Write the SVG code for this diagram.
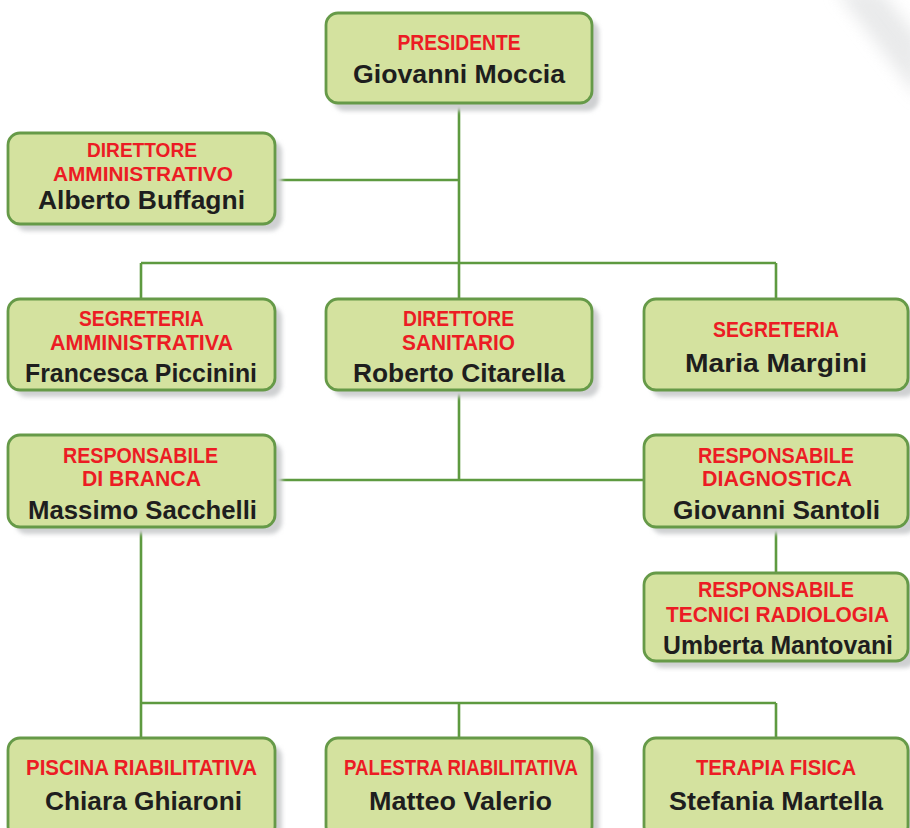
<svg xmlns="http://www.w3.org/2000/svg" width="910" height="828" viewBox="0 0 910 828">
<defs>
<filter id="blur" x="-10%" y="-10%" width="120%" height="130%"><feGaussianBlur stdDeviation="2"/></filter>
<filter id="soft" x="-50%" y="-50%" width="200%" height="200%"><feGaussianBlur stdDeviation="8"/></filter>
</defs>
<style>
.box{fill:#d4e29f;stroke:#669a48;stroke-width:2.8}
.sh{fill:#cfd0d2;filter:url(#blur)}
.r{font-family:"Liberation Sans",Arial,sans-serif;font-weight:bold;font-size:22px;fill:#ec1c24;text-anchor:middle}
.r2{font-size:21px}
.n{font-family:"Liberation Sans",Arial,sans-serif;font-weight:bold;font-size:26px;fill:#1e1e1e;text-anchor:middle}
.c{stroke:#5e9a40;stroke-width:2.6;fill:none}
</style>
<rect width="910" height="828" fill="#ffffff"/>
<polygon points="835,-10 880,-10 920,40 920,100" fill="#e4e5e6" filter="url(#soft)" opacity="0.8"/>
<g id="connectors">
<path class="c" d="M459 103 V480 M275 180 H459 M141 263 H776 M141 263 V299 M776 263 V299 M275 480 H643 M776 527 V573 M141 527 V703 M141 703 H776 M141 703 V738 M459 703 V738 M776 703 V738"/>
</g>
<g id="presidente">
<rect class="sh" x="333" y="20" width="266" height="91" rx="12"/>
<rect class="box" x="326" y="13" width="266" height="90" rx="12"/>
<text class="r" x="459" y="50" textLength="123" lengthAdjust="spacingAndGlyphs">PRESIDENTE</text>
<text class="n" x="459" y="83" textLength="212" lengthAdjust="spacingAndGlyphs">Giovanni Moccia</text>
</g>
<g id="direttore-amministrativo">
<rect class="sh" x="15" y="140" width="267" height="91" rx="12"/>
<rect class="box" x="8" y="133" width="267" height="91" rx="12"/>
<text class="r r2" x="142" y="157" textLength="110" lengthAdjust="spacingAndGlyphs">DIRETTORE</text>
<text class="r r2" x="143" y="181" textLength="180" lengthAdjust="spacingAndGlyphs">AMMINISTRATIVO</text>
<text class="n" x="141.5" y="209" textLength="207" lengthAdjust="spacingAndGlyphs">Alberto Buffagni</text>
</g>
<g id="segreteria-amministrativa">
<rect class="sh" x="15" y="306" width="267" height="91" rx="12"/>
<rect class="box" x="8" y="299" width="267" height="91" rx="12"/>
<text class="r" x="141.5" y="326" textLength="125" lengthAdjust="spacingAndGlyphs">SEGRETERIA</text>
<text class="r" x="141.5" y="350" textLength="183" lengthAdjust="spacingAndGlyphs">AMMINISTRATIVA</text>
<text class="n" x="141" y="382" textLength="232" lengthAdjust="spacingAndGlyphs">Francesca Piccinini</text>
</g>
<g id="direttore-sanitario">
<rect class="sh" x="333" y="306" width="266" height="91" rx="12"/>
<rect class="box" x="326" y="299" width="266" height="91" rx="12"/>
<text class="r" x="458.5" y="326" textLength="111" lengthAdjust="spacingAndGlyphs">DIRETTORE</text>
<text class="r" x="458.5" y="350" textLength="113" lengthAdjust="spacingAndGlyphs">SANITARIO</text>
<text class="n" x="459" y="382" textLength="212" lengthAdjust="spacingAndGlyphs">Roberto Citarella</text>
</g>
<g id="segreteria">
<rect class="sh" x="651" y="306" width="265" height="91" rx="12"/>
<rect class="box" x="644" y="299" width="264" height="91" rx="12"/>
<text class="r" x="776" y="337" textLength="126" lengthAdjust="spacingAndGlyphs">SEGRETERIA</text>
<text class="n" x="776" y="372" textLength="182" lengthAdjust="spacingAndGlyphs">Maria Margini</text>
</g>
<g id="responsabile-branca">
<rect class="sh" x="15" y="442" width="267" height="92" rx="12"/>
<rect class="box" x="8" y="435" width="267" height="92" rx="12"/>
<text class="r" x="140.5" y="463" textLength="155" lengthAdjust="spacingAndGlyphs">RESPONSABILE</text>
<text class="r" x="141.5" y="486" textLength="119" lengthAdjust="spacingAndGlyphs">DI BRANCA</text>
<text class="n" x="142.5" y="519" textLength="229" lengthAdjust="spacingAndGlyphs">Massimo Sacchelli</text>
</g>
<g id="responsabile-diagnostica">
<rect class="sh" x="651" y="442" width="265" height="92" rx="12"/>
<rect class="box" x="644" y="435" width="264" height="92" rx="12"/>
<text class="r" x="776" y="463" textLength="156" lengthAdjust="spacingAndGlyphs">RESPONSABILE</text>
<text class="r" x="777" y="486" textLength="150" lengthAdjust="spacingAndGlyphs">DIAGNOSTICA</text>
<text class="n" x="776.5" y="519" textLength="207" lengthAdjust="spacingAndGlyphs">Giovanni Santoli</text>
</g>
<g id="responsabile-tecnici">
<rect class="sh" x="651" y="580" width="265" height="88" rx="12"/>
<rect class="box" x="644" y="573" width="264" height="88" rx="12"/>
<text class="r" x="776" y="597" textLength="156" lengthAdjust="spacingAndGlyphs">RESPONSABILE</text>
<text class="r" x="777.5" y="622" textLength="223" lengthAdjust="spacingAndGlyphs">TECNICI RADIOLOGIA</text>
<text class="n" x="778" y="654" textLength="230" lengthAdjust="spacingAndGlyphs">Umberta Mantovani</text>
</g>
<g id="piscina">
<rect class="sh" x="15" y="745" width="267" height="100" rx="12"/>
<rect class="box" x="8" y="738" width="267" height="100" rx="12"/>
<text class="r" x="141.5" y="775" textLength="231" lengthAdjust="spacingAndGlyphs">PISCINA RIABILITATIVA</text>
<text class="n" x="143.5" y="810" textLength="197" lengthAdjust="spacingAndGlyphs">Chiara Ghiaroni</text>
</g>
<g id="palestra">
<rect class="sh" x="333" y="745" width="266" height="100" rx="12"/>
<rect class="box" x="326" y="738" width="266" height="100" rx="12"/>
<text class="r" x="461" y="775" textLength="234" lengthAdjust="spacingAndGlyphs">PALESTRA RIABILITATIVA</text>
<text class="n" x="460.5" y="810" textLength="183" lengthAdjust="spacingAndGlyphs">Matteo Valerio</text>
</g>
<g id="terapia-fisica">
<rect class="sh" x="651" y="745" width="265" height="100" rx="12"/>
<rect class="box" x="644" y="738" width="264" height="100" rx="12"/>
<text class="r" x="776" y="775" textLength="160" lengthAdjust="spacingAndGlyphs">TERAPIA FISICA</text>
<text class="n" x="776" y="810" textLength="214" lengthAdjust="spacingAndGlyphs">Stefania Martella</text>
</g>
</svg>
